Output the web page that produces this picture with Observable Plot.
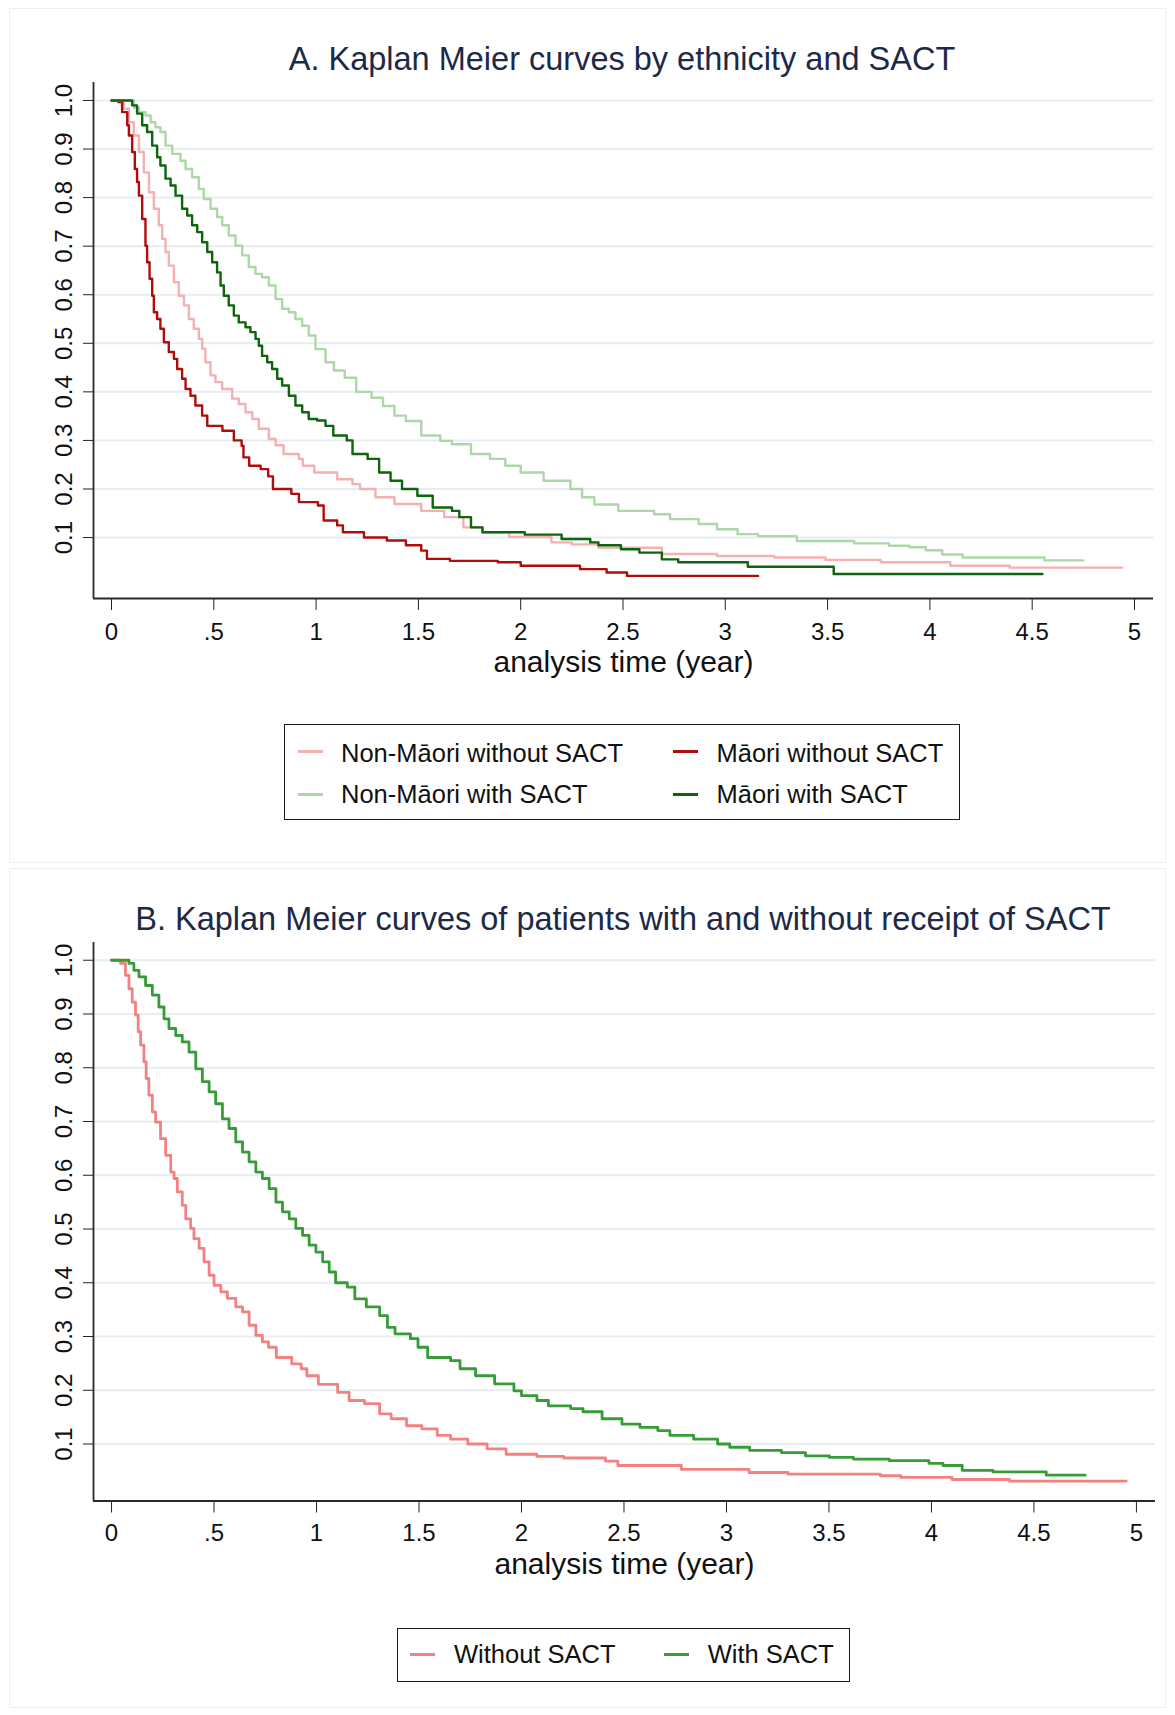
<!DOCTYPE html>
<html>
<head>
<meta charset="utf-8">
<script src="https://cdn.jsdelivr.net/npm/d3@7"></script>
<script src="https://cdn.jsdelivr.net/npm/@observablehq/plot@0.6"></script>
<style>
  body { margin: 0; background: #fff; }
  #page { position: relative; width: 1175px; height: 1715px; overflow: hidden;
          font-family: "Liberation Sans", Arial, Helvetica, sans-serif; background: #fff; }
  .panel { position: absolute; border: 1px solid #efefef; box-sizing: border-box; }
  .title { position: absolute; width: 1000px; text-align: center; font-size: 32.5px; line-height: 32.5px;
           color: #1c2a48; white-space: nowrap; }
  .legend { position: absolute; border: 1.5px solid #1a1a1a; box-sizing: border-box; }
  .ltext { position: absolute; font-size: 25.5px; line-height: 25.5px; color: #111; white-space: nowrap; }
  .swatch { position: absolute; height: 3px; width: 25px; }
  svg.plot { position: absolute; left: 0; }
</style>
</head>
<body>
<div id="page"></div>
<script>
// ---------------- DATA ----------------
const xTicks = [0, 0.5, 1, 1.5, 2, 2.5, 3, 3.5, 4, 4.5, 5];
const xTickLabels = ["0", ".5", "1", "1.5", "2", "2.5", "3", "3.5", "4", "4.5", "5"];
const yTicks = [0.1, 0.2, 0.3, 0.4, 0.5, 0.6, 0.7, 0.8, 0.9, 1.0];
const yTickLabels = ["0.1", "0.2", "0.3", "0.4", "0.5", "0.6", "0.7", "0.8", "0.9", "1.0"];
const xAxisTitle = "analysis time (year)";

const titleA = "A. Kaplan Meier curves by ethnicity and SACT";
const titleB = "B. Kaplan Meier curves of patients with and without receipt of SACT";

// Panel A series: [time (years), survival]
const nonMaoriWithoutSACT = [[0,1],[0.03,1],[0.06,0.983],[0.085,0.955],[0.109,0.928],[0.134,0.894],[0.158,0.852],[0.183,0.811],[0.207,0.777],[0.231,0.743],[0.248,0.715],[0.264,0.688],[0.28,0.66],[0.305,0.626],[0.329,0.598],[0.354,0.578],[0.378,0.55],[0.402,0.53],[0.427,0.509],[0.443,0.489],[0.459,0.461],[0.484,0.434],[0.508,0.42],[0.541,0.406],[0.59,0.386],[0.622,0.375],[0.655,0.358],[0.688,0.344],[0.72,0.324],[0.769,0.303],[0.802,0.29],[0.841,0.272],[0.916,0.262],[0.935,0.248],[0.991,0.234],[1.103,0.22],[1.178,0.21],[1.215,0.2],[1.29,0.183],[1.383,0.169],[1.514,0.155],[1.626,0.142],[1.72,0.121],[1.813,0.111],[1.944,0.101],[2.15,0.09],[2.25,0.086],[2.38,0.079],[2.69,0.066],[2.96,0.062],[3.24,0.059],[3.49,0.054],[3.76,0.049],[4.1,0.042],[4.39,0.038],[4.94,0.038]];
const maoriWithoutSACT = [[0,1],[0.033,0.997],[0.052,0.976],[0.077,0.949],[0.085,0.928],[0.101,0.894],[0.114,0.859],[0.125,0.832],[0.134,0.804],[0.15,0.756],[0.166,0.701],[0.174,0.667],[0.186,0.633],[0.199,0.598],[0.207,0.564],[0.223,0.55],[0.239,0.53],[0.256,0.502],[0.28,0.482],[0.305,0.468],[0.321,0.447],[0.345,0.427],[0.362,0.406],[0.386,0.392],[0.41,0.372],[0.443,0.351],[0.468,0.33],[0.542,0.32],[0.598,0.3],[0.636,0.289],[0.645,0.265],[0.673,0.248],[0.729,0.241],[0.766,0.226],[0.789,0.2],[0.879,0.19],[0.916,0.173],[1.009,0.166],[1.037,0.135],[1.103,0.125],[1.131,0.111],[1.234,0.1],[1.346,0.094],[1.439,0.084],[1.514,0.073],[1.542,0.056],[1.654,0.052],[1.888,0.049],[2.0,0.042],[2.29,0.035],[2.42,0.028],[2.52,0.021],[3.16,0.021]];
const nonMaoriWithSACT = [[0,1],[0.11,0.985],[0.134,0.976],[0.166,0.969],[0.191,0.955],[0.215,0.945],[0.239,0.935],[0.264,0.907],[0.297,0.89],[0.337,0.876],[0.362,0.859],[0.394,0.842],[0.427,0.818],[0.451,0.797],[0.484,0.777],[0.516,0.76],[0.541,0.743],[0.573,0.722],[0.606,0.701],[0.639,0.681],[0.671,0.657],[0.704,0.643],[0.736,0.636],[0.769,0.619],[0.802,0.591],[0.834,0.571],[0.867,0.564],[0.899,0.55],[0.932,0.536],[0.964,0.516],[0.997,0.488],[1.046,0.461],[1.087,0.444],[1.14,0.429],[1.196,0.4],[1.271,0.388],[1.327,0.371],[1.383,0.351],[1.439,0.34],[1.514,0.31],[1.607,0.299],[1.664,0.292],[1.757,0.272],[1.85,0.262],[1.925,0.248],[2.0,0.234],[2.112,0.217],[2.243,0.2],[2.3,0.183],[2.36,0.168],[2.477,0.155],[2.652,0.148],[2.73,0.138],[2.87,0.128],[2.96,0.117],[3.06,0.107],[3.16,0.103],[3.35,0.093],[3.63,0.088],[3.8,0.083],[3.9,0.08],[3.98,0.074],[4.06,0.065],[4.16,0.059],[4.56,0.053],[4.75,0.053]];
const maoriWithSACT = [[0,1],[0.07,1],[0.101,0.99],[0.125,0.973],[0.15,0.949],[0.174,0.935],[0.199,0.907],[0.223,0.883],[0.239,0.866],[0.264,0.839],[0.289,0.825],[0.313,0.804],[0.345,0.777],[0.37,0.763],[0.394,0.743],[0.419,0.729],[0.443,0.708],[0.468,0.688],[0.492,0.667],[0.516,0.646],[0.533,0.619],[0.549,0.598],[0.573,0.578],[0.598,0.557],[0.622,0.543],[0.655,0.533],[0.679,0.523],[0.704,0.509],[0.72,0.495],[0.736,0.474],[0.761,0.461],[0.785,0.447],[0.81,0.427],[0.834,0.413],[0.867,0.392],[0.899,0.372],[0.932,0.358],[0.964,0.344],[1.005,0.341],[1.046,0.33],[1.084,0.31],[1.15,0.3],[1.178,0.272],[1.252,0.262],[1.308,0.234],[1.364,0.217],[1.42,0.2],[1.495,0.186],[1.57,0.162],[1.664,0.155],[1.7,0.142],[1.757,0.121],[1.813,0.111],[2.02,0.106],[2.2,0.097],[2.34,0.09],[2.38,0.084],[2.49,0.076],[2.58,0.069],[2.69,0.055],[2.77,0.049],[3.11,0.04],[3.53,0.025],[4.55,0.025]];

// Panel B series
const withoutSACT = [[0,1],[0.044,0.994],[0.068,0.972],[0.085,0.947],[0.101,0.922],[0.117,0.898],[0.13,0.867],[0.142,0.842],[0.158,0.811],[0.169,0.78],[0.182,0.749],[0.199,0.718],[0.215,0.699],[0.239,0.668],[0.264,0.637],[0.289,0.606],[0.305,0.594],[0.321,0.569],[0.345,0.544],[0.362,0.519],[0.386,0.501],[0.402,0.482],[0.427,0.464],[0.451,0.439],[0.476,0.414],[0.5,0.395],[0.533,0.383],[0.565,0.371],[0.606,0.355],[0.639,0.346],[0.671,0.321],[0.704,0.302],[0.736,0.29],[0.766,0.28],[0.804,0.261],[0.879,0.249],[0.925,0.24],[0.953,0.227],[1.009,0.211],[1.103,0.196],[1.159,0.181],[1.234,0.175],[1.308,0.156],[1.364,0.147],[1.439,0.134],[1.514,0.128],[1.589,0.116],[1.654,0.109],[1.738,0.1],[1.832,0.091],[1.925,0.081],[2.075,0.077],[2.206,0.074],[2.41,0.068],[2.47,0.06],[2.78,0.053],[3.11,0.047],[3.3,0.044],[3.75,0.041],[3.85,0.038],[4.1,0.034],[4.38,0.031],[4.95,0.031]];
const withSACT = [[0,1],[0.068,1],[0.085,0.994],[0.109,0.981],[0.134,0.969],[0.166,0.953],[0.199,0.935],[0.231,0.913],[0.256,0.891],[0.28,0.873],[0.313,0.86],[0.345,0.848],[0.378,0.829],[0.411,0.798],[0.443,0.774],[0.476,0.755],[0.508,0.733],[0.541,0.705],[0.573,0.687],[0.606,0.662],[0.639,0.643],[0.671,0.625],[0.704,0.606],[0.736,0.594],[0.769,0.575],[0.802,0.55],[0.834,0.532],[0.867,0.519],[0.899,0.501],[0.932,0.488],[0.964,0.47],[0.997,0.457],[1.03,0.439],[1.062,0.42],[1.093,0.4],[1.15,0.392],[1.187,0.37],[1.243,0.355],[1.308,0.339],[1.346,0.317],[1.383,0.305],[1.458,0.296],[1.495,0.28],[1.542,0.261],[1.654,0.255],[1.7,0.24],[1.776,0.227],[1.869,0.212],[1.963,0.199],[2.0,0.19],[2.075,0.181],[2.131,0.171],[2.24,0.166],[2.3,0.16],[2.393,0.147],[2.49,0.137],[2.578,0.131],[2.665,0.125],[2.724,0.116],[2.84,0.109],[2.957,0.1],[3.016,0.094],[3.113,0.088],[3.268,0.084],[3.385,0.078],[3.502,0.075],[3.619,0.072],[3.794,0.069],[3.988,0.064],[4.056,0.06],[4.15,0.051],[4.3,0.048],[4.56,0.042],[4.75,0.042]];

const seriesA = ["Non-Māori without SACT", "Māori without SACT", "Non-Māori with SACT", "Māori with SACT"];
const colorsA = ["#f5b0b0", "#b10c0c", "#add7a9", "#0d650d"];
const seriesB = ["Without SACT", "With SACT"];
const colorsB = ["#f38181", "#379b37"];

// ---------------- BUILD ----------------
const page = document.getElementById("page");
const FONT = '"Liberation Sans", Arial, Helvetica, sans-serif';
const xLabel = new Map(xTicks.map((d, i) => [d, xTickLabels[i]]));
const yLabel = new Map(yTicks.map((d, i) => [d, yTickLabels[i]]));

function table(curves, names) {
  return curves.flatMap((c, k) => c.map(([t, s]) => ({series: names[k], t, s})));
}
const tableA = table([nonMaoriWithoutSACT, maoriWithoutSACT, nonMaoriWithSACT, maoriWithSACT], seriesA);
const tableB = table([withoutSACT, withSACT], seriesB);

function panel(data, names, colors, o) {
  const xDomain = [-0.088, 5.093];
  return Plot.plot({
    width: 1175, height: o.height,
    marginLeft: 93, marginRight: o.marginRight, marginTop: o.marginTop, marginBottom: o.marginBottom,
    x: {domain: xDomain},
    y: {domain: o.yDomain},
    color: {domain: names, range: colors},
    style: {fontFamily: FONT, color: "#111", background: "transparent", overflow: "visible"},
    marks: [
      Plot.ruleY(yTicks, {stroke: "#e6eef1", strokeWidth: 2}),
      Plot.axisY(yTicks, {tickSize: 10, tickPadding: 12, tickRotate: -90, textAnchor: "middle", lineAnchor: "bottom",
                          tickFormat: d => yLabel.get(d), fontSize: 24, label: null, stroke: "#222", fill: "#111"}),
      Plot.axisX(xTicks, {tickSize: 12, tickPadding: o.xPad, tickFormat: d => xLabel.get(d), fontSize: 24,
                          label: null, stroke: "#222", fill: "#111"}),
      Plot.ruleX([xDomain[0]], {stroke: "#2a2a2a", strokeWidth: 1.8}),
      Plot.ruleY([o.yDomain[0]], {stroke: "#2a2a2a", strokeWidth: 1.8}),
      Plot.line(data, {x: "t", y: "s", z: "series", stroke: "series", curve: "step-after", strokeWidth: o.lineWidth}),
      Plot.text([xAxisTitle], {frameAnchor: "bottom", dy: o.labelDy, lineAnchor: "bottom", fontSize: 30, fill: "#111"})
    ]
  });
}

function addDiv(cls, style, text) {
  const d = document.createElement("div");
  d.className = cls;
  Object.assign(d.style, style);
  if (text != null) d.textContent = text;
  page.appendChild(d);
  return d;
}

// panel frames (faint)
addDiv("panel", {left: "9px", top: "8px", width: "1157px", height: "855px"});
addDiv("panel", {left: "9px", top: "868px", width: "1157px", height: "840px"});

// Panel A
addDiv("title", {left: "122px", top: "42.5px"}, titleA);
const svgA = panel(tableA, seriesA, colorsA, {height: 700, marginTop: 82, marginBottom: 102, marginRight: 22,
  yDomain: [-0.0255, 1.037], xPad: 12, labelDy: 73.5, lineWidth: 2.4});
svgA.classList.add("plot"); svgA.style.top = "0px";
page.appendChild(svgA);

// Legend A
addDiv("legend", {left: "284px", top: "724px", width: "676px", height: "96px"});
const legA = [
  {name: seriesA[0], color: colorsA[0], sx: 298, tx: 341, sy: 751.7, by: 762.7},
  {name: seriesA[1], color: colorsA[1], sx: 672.5, tx: 716.5, sy: 751.7, by: 762.7},
  {name: seriesA[2], color: colorsA[2], sx: 298, tx: 341, sy: 794, by: 804},
  {name: seriesA[3], color: colorsA[3], sx: 672.5, tx: 716.5, sy: 794, by: 804}
];
legA.forEach(e => {
  addDiv("swatch", {left: e.sx + "px", top: (e.sy - 1.5) + "px", background: e.color});
  addDiv("ltext", {left: e.tx + "px", top: (e.by - 21.6) + "px"}, e.name);
});

// Panel B
addDiv("title", {left: "123px", top: "902.5px"}, titleB);
const svgB = panel(tableB, seriesB, colorsB, {height: 730, marginTop: 72, marginBottom: 99.5, marginRight: 20,
  yDomain: [-0.006, 1.033], xPad: 11.2, labelDy: 72.5, lineWidth: 2.8});
svgB.classList.add("plot"); svgB.style.top = "870px";
page.appendChild(svgB);

// Legend B
addDiv("legend", {left: "397px", top: "1628px", width: "453px", height: "54px"});
const legB = [
  {name: seriesB[0], color: colorsB[0], sx: 410, tx: 454, sy: 1654, by: 1664},
  {name: seriesB[1], color: colorsB[1], sx: 664, tx: 707.7, sy: 1654, by: 1664}
];
legB.forEach(e => {
  addDiv("swatch", {left: e.sx + "px", top: (e.sy - 1.5) + "px", background: e.color});
  addDiv("ltext", {left: e.tx + "px", top: (e.by - 21.6) + "px"}, e.name);
});
</script>
</body>
</html>
